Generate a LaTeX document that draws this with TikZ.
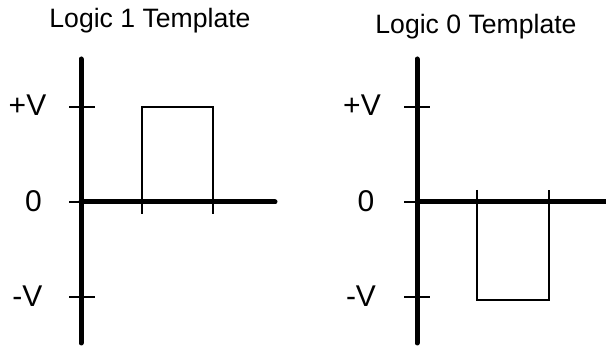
\documentclass[tikz,border=0pt]{standalone}
\usepackage{fontspec}
\setmainfont{Liberation Sans}
\begin{document}
\begin{tikzpicture}[x=1pt,y=-1pt,
  axis/.style={line width=5pt,line cap=round},
  tickmark/.style={line width=2.6pt},
  pulse/.style={line width=2.6pt,line join=miter},
  title/.style={anchor=base,font=\fontsize{26.6}{30}\selectfont,inner sep=0pt},
  lbl/.style={anchor=base,font=\fontsize{30}{36}\selectfont,inner sep=0pt}]
\useasboundingbox[fill=white] (0,0) rectangle (606,347);
% left panel
\node[title] (t1) at (150,28) {Logic 1 Template};
\node[lbl] (p1) at (27.5,116) {+V};
\node[lbl] (z1) at (33.5,212) {0};
\node[lbl] (m1) at (27.5,307) {-V};
\draw[tickmark] (69,107) -- (95,107);
\draw[tickmark] (69,202) -- (81,202);
\draw[tickmark] (69,297) -- (95,297);
\draw[pulse] (142,214) -- (142,107) -- (213,107) -- (213,214);
\draw[axis] (81,59) -- (81,343);
\draw[axis] (81,202) -- (275,202);
% right panel
\node[title] (t0) at (476,34) {Logic 0 Template};
\node[lbl] (p0) at (362,116) {+V};
\node[lbl] (z0) at (366,212) {0};
\node[lbl] (m0) at (361,307) {-V};
\draw[tickmark] (404,107) -- (430,107);
\draw[tickmark] (404,202) -- (417,202);
\draw[tickmark] (404,297) -- (430,297);
\draw[pulse] (477,190) -- (477,300) -- (549,300) -- (549,190);
\draw[axis] (417,59) -- (417,343);
\draw[axis,line cap=butt] (417,202) -- (606,202);
\end{tikzpicture}
\end{document}
